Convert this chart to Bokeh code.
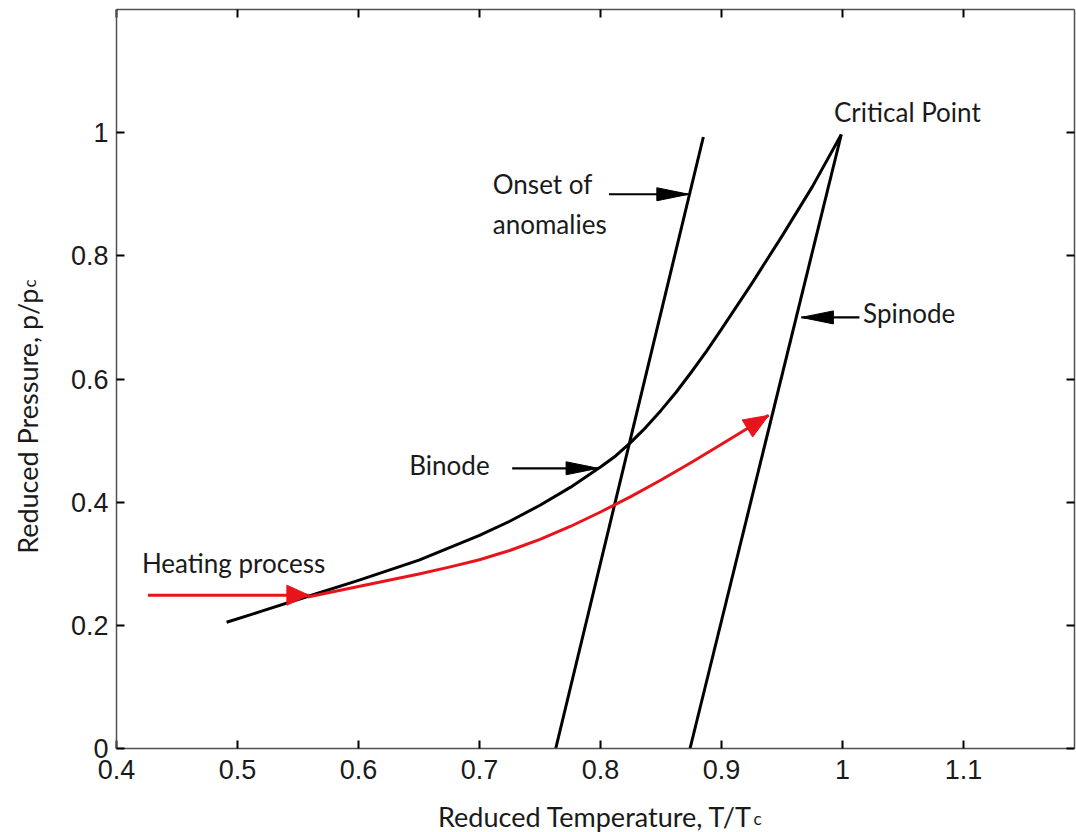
import math
from bokeh.plotting import figure
from bokeh.models import Range1d, FixedTicker, LinearAxis, Label, ColumnDataSource
from bokeh.core.properties import value
from bokeh.embed import file_html
from bokeh.resources import INLINE

# ---------------- data ----------------
binode_t = [0.491, 0.520, 0.550, 0.600, 0.650, 0.700, 0.725, 0.750, 0.775, 0.800,
            0.8125, 0.825, 0.8375, 0.850, 0.8625, 0.875, 0.8875, 0.900, 0.925, 0.950,
            0.975, 0.999]
binode_p = [0.205, 0.223, 0.242, 0.273, 0.306, 0.346, 0.369, 0.395, 0.424, 0.457,
            0.475, 0.497, 0.5215, 0.549, 0.5785, 0.611, 0.645, 0.681, 0.755, 0.832,
            0.912, 0.997]

heat_t = [0.558, 0.600, 0.650, 0.675, 0.700, 0.725, 0.750, 0.775, 0.800, 0.825,
          0.850, 0.875, 0.900, 0.920, 0.939]
heat_p = [0.246, 0.263, 0.2835, 0.2945, 0.3065, 0.3215, 0.3395, 0.3605, 0.384, 0.409,
          0.436, 0.4645, 0.494, 0.518, 0.541]

heat_in_t = [0.426, 0.559]
heat_in_p = [0.249, 0.249]

onset_t = [0.763, 0.885]
onset_p = [0.000, 0.993]

spinode_t = [0.874, 0.999]
spinode_p = [0.000, 0.997]

# annotation arrows: (tail_t, tail_p, tip_t, tip_p)
ann_arrows = [
    (0.807, 0.900, 0.873, 0.900),   # onset of anomalies
    (0.727, 0.455, 0.798, 0.455),   # binode
    (1.014, 0.700, 0.966, 0.700),   # spinode
]

ann_text = ["Critical Point", "Onset of", "anomalies", "Binode", "Spinode", "Heating process"]
ann_t = [0.993, 0.711, 0.711, 0.642, 1.017, 0.421]
ann_p = [1.034, 0.917, 0.852, 0.460, 0.707, 0.302]

x_ticks = [0.4, 0.5, 0.6, 0.7, 0.8, 0.9, 1.0, 1.1]
x_tick_labels = ["0.4", "0.5", "0.6", "0.7", "0.8", "0.9", "1", "1.1"]
y_ticks = [0.0, 0.2, 0.4, 0.6, 0.8, 1.0]
y_tick_labels = ["0", "0.2", "0.4", "0.6", "0.8", "1"]

x_title = "Reduced Temperature, T/T"
y_title = "Reduced Pressure, p/p"
title_sub = "c"

# ---------------- layout ----------------
W, H = 1076, 832
XPX = 1210.0                 # pixels per unit of T/Tc
YPX = 739.0 / 1.2            # pixels per unit of p/pc
BOX_L, BOX_B = 0.4, 0.0
BOX_R = 0.4 + 958.0 / XPX
BOX_T = 1.2
X0 = BOX_L - 116.0 / XPX
X1 = X0 + W / XPX
Y0 = BOX_B - (H - 748.0) / YPX
Y1 = Y0 + H / YPX

RED = "#e8141c"
FRAME = "#505050"
TXT = "#1a1a1a"

p = figure(frame_width=W, frame_height=H, output_backend="svg", toolbar_location=None,
           x_range=Range1d(X0, X1), y_range=Range1d(Y0, Y1),
           min_border=0, background_fill_color="white", border_fill_color="white")
p.grid.visible = False
p.outline_line_color = None


def style_axis(ax, ticks, labels, show_labels, loc, bounds):
    ax.fixed_location = loc
    ax.bounds = bounds
    ax.ticker = FixedTicker(ticks=ticks)
    ax.major_label_overrides = {t: l for t, l in zip(ticks, labels)}
    ax.major_tick_in = 8
    ax.major_tick_out = 0
    ax.minor_tick_in = 0
    ax.minor_tick_out = 0
    ax.major_tick_line_color = "black"
    ax.major_tick_line_width = 2
    ax.axis_line_color = FRAME
    ax.axis_line_width = 1.5
    if show_labels:
        ax.major_label_text_font = "Liberation Sans"
        ax.major_label_text_font_size = "27px"
        ax.major_label_text_color = TXT
    else:
        ax.major_label_text_font_size = "0px"
        ax.major_label_standoff = 0


style_axis(p.xaxis[0], x_ticks, x_tick_labels, True, BOX_B, (BOX_L, BOX_R))
p.xaxis[0].major_label_standoff = 11
style_axis(p.yaxis[0], y_ticks, y_tick_labels, True, BOX_L, (BOX_B, BOX_T))
p.yaxis[0].major_label_standoff = 8

top = LinearAxis()
style_axis(top, x_ticks, ["" for _ in x_ticks], False, BOX_T, (BOX_L, BOX_R))
p.add_layout(top, "above")
right = LinearAxis()
style_axis(right, y_ticks, ["" for _ in y_ticks], False, BOX_R, (BOX_B, BOX_T))
p.add_layout(right, "right")


def head(tip_x, tip_y, from_x, from_y, length, half):
    dx = (tip_x - from_x) * XPX
    dy = (tip_y - from_y) * YPX
    n = math.hypot(dx, dy)
    ux, uy = dx / n, dy / n
    bx, by = -ux * length, -uy * length
    px_, py_ = -uy * half, ux * half
    xs = [tip_x, tip_x + (bx + px_) / XPX, tip_x + (bx - px_) / XPX]
    ys = [tip_y, tip_y + (by + py_) / YPX, tip_y + (by - py_) / YPX]
    return xs, ys


# curves
p.line(binode_t, binode_p, line_color="black", line_width=3, line_join="round")
p.line(onset_t, onset_p, line_color="black", line_width=3)
p.line(spinode_t, spinode_p, line_color="black", line_width=3)

# heating process (red)
p.line(heat_in_t, heat_in_p, line_color=RED, line_width=3)
p.line(heat_t, heat_p, line_color=RED, line_width=3, line_join="round")
hx, hy = head(heat_in_t[-1], heat_in_p[-1], heat_in_t[0], heat_in_p[0], 22, 10)
rx, ry = head(heat_t[-1], heat_p[-1], heat_t[-2], heat_p[-2], 25, 10)
p.patches([hx, rx], [hy, ry], fill_color=RED, line_color=RED, line_width=1)

# annotation arrows
hxs, hys = [], []
for (t0, p0, t1, p1) in ann_arrows:
    p.line([t0, t1], [p0, p1], line_color="black", line_width=2.2)
    xs, ys = head(t1, p1, t0, p0, 32, 6.5)
    hxs.append(xs)
    hys.append(ys)
p.patches(hxs, hys, fill_color="black", line_color="black", line_width=1)

# annotation texts
src = ColumnDataSource(dict(x=ann_t, y=ann_p, text=ann_text))
p.text("x", "y", text="text", source=src, text_font=value("Lato"),
       text_font_size=value("26px"), text_color=TXT,
       text_align="left", text_baseline="middle")

# axis titles with subscripts
xl_x = BOX_L + (752 - 116) / XPX
xl_y = BOX_B - (816 - 748) / YPX
p.add_layout(Label(x=xl_x, y=xl_y, text=x_title, text_font="Lato",
                   text_font_size="27px", text_color=TXT, text_align="right",
                   text_baseline="alphabetic"))
p.add_layout(Label(x=xl_x + 1.0 / XPX, y=xl_y - 2.0 / YPX, text=title_sub, text_font="Lato",
                   text_font_size="17px", text_color=TXT, text_align="left",
                   text_baseline="alphabetic"))

yl_x = BOX_L - (116 - 27) / XPX
yl_y = BOX_B + (748 - 288) / YPX
p.add_layout(Label(x=yl_x, y=yl_y, text=y_title, text_font="Lato",
                   text_font_size="27px", text_color=TXT, text_align="right",
                   text_baseline="alphabetic", angle=math.pi / 2))
p.add_layout(Label(x=yl_x + 2.0 / XPX, y=yl_y + 1.0 / YPX, text=title_sub, text_font="Lato",
                   text_font_size="17px", text_color=TXT, text_align="left",
                   text_baseline="alphabetic", angle=math.pi / 2))

open("out.html", "w").write(file_html(p, INLINE))
